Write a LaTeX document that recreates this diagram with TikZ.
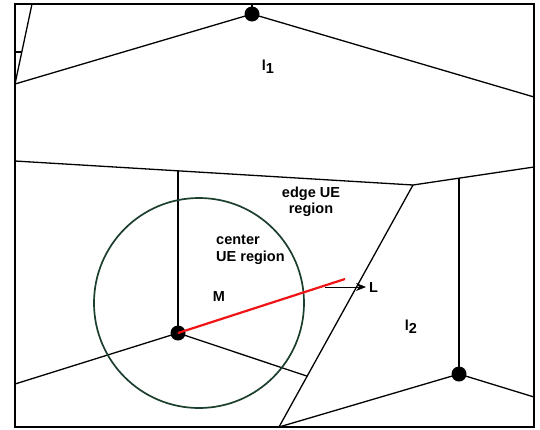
\documentclass[tikz,border=0pt]{standalone}
\usepackage{fontspec}
\setmainfont{Liberation Sans}
\usetikzlibrary{arrows.meta,calc}
\definecolor{ringgreen}{RGB}{28,62,45}
\definecolor{redline}{RGB}{240,20,20}
\tikzset{
  edge/.style={line width=1.3pt,black},
  bsdot/.style={circle,fill=black,inner sep=0pt,minimum size=15pt},
  lbl/.style={font=\fontsize{14.5}{16.5}\selectfont\bfseries,inner sep=0pt},
}
\begin{document}
\begin{tikzpicture}[x=1pt,y=-1pt]
\useasboundingbox (0,0) rectangle (540,429);
\fill[white] (0,0) rectangle (540,429);
% frame
\draw[line width=1.6pt] (15,4) rectangle (534,427);
% coordinates
\coordinate (A) at (32,4);
\coordinate (B) at (15,84);
\coordinate (C) at (15,52);
\coordinate (D) at (21.8,52);
\coordinate (T) at (252,4);
\coordinate (F) at (534,97);
\coordinate (G) at (15,161);
\coordinate (H) at (413,185);
\coordinate (I) at (534,167);
\coordinate (J) at (178,170.8);
\coordinate (K) at (459,178.2);
\coordinate (P) at (279,427);
\coordinate (E) at (15,384);
\coordinate (Q) at ($(H)!0.79!(P)$);
\coordinate (R) at (534,397);
\coordinate (redend) at (345,279);
% base stations
\node[bsdot] (bs1) at (252,14) {};
\node[bsdot] (bsM) at (178,333) {};
\node[bsdot] (bs2) at (459,374) {};
% cell edges
\draw[edge] (A) -- (B);
\draw[edge] (C) -- (D);
\draw[edge] (B) -- (bs1.center) -- (F);
\draw[edge] (T) -- (bs1.center);
\draw[edge] (G) -- (H) -- (I);
\draw[edge] (J) -- (bsM.center);
\draw[edge] (K) -- (bs2.center);
\draw[edge] (H) -- (P);
\draw[edge] (E) -- (bsM.center) -- (Q);
\draw[edge] (P) -- (bs2.center) -- (R);
% center region circle
\draw[ringgreen,line width=1.7pt] (199,303) circle (105);
% red line and arrow
\draw[redline,line width=2.2pt] (bsM.center) -- (redend);
\coordinate (arrstart) at ($(bsM.center)!0.88!(redend)$);
\coordinate (arrend) at (366,287);
\draw[line width=1pt,-{Stealth[length=10pt,width=8pt]}] (arrstart |- arrend) -- (arrend);
% labels
\node[lbl] (l1) at (268,67) {l\raisebox{-0.45ex}{1}};
\node[lbl] (l2) at (411,327) {l\raisebox{-0.45ex}{2}};
\node[lbl,align=center] (edge) at (311,202) {edge UE\\region};
\node[lbl,align=left,anchor=west] (center) at (216,250) {center\\UE region};
\node[lbl] (M) at (219,297) {M};
\node[lbl,anchor=west] (L) at (369,288) {L};
\end{tikzpicture}
\end{document}
